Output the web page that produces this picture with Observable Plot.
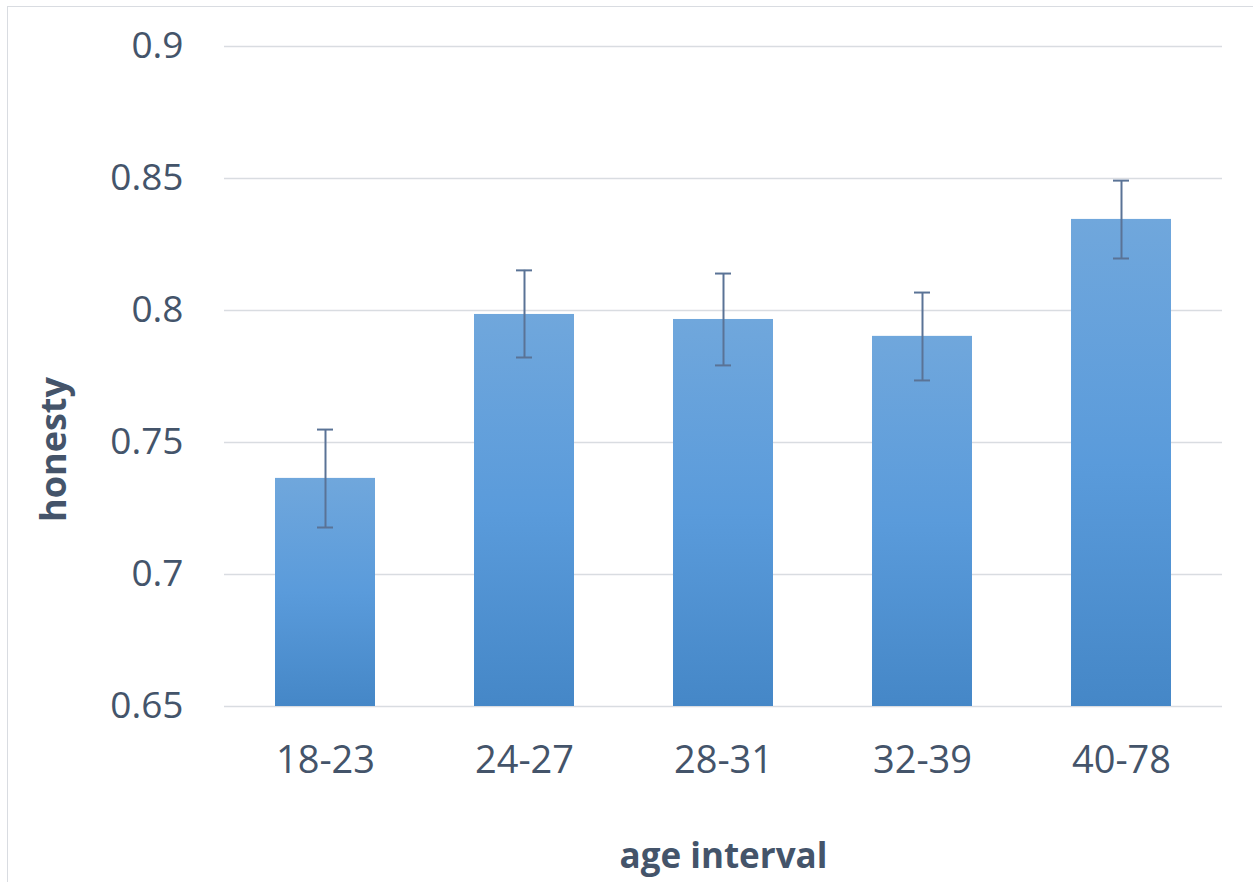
<!DOCTYPE html>
<html>
<head>
<meta charset="utf-8">
<script src="https://cdn.jsdelivr.net/npm/d3@7"></script>
<script src="https://cdn.jsdelivr.net/npm/@observablehq/plot@0.6"></script>
<style>
  html, body { margin: 0; padding: 0; background: #fff; overflow: hidden; }
  #wrap { position: relative; width: 1253px; height: 882px; }
  #frame { position: absolute; left: 7px; top: 6px; width: 1300px; height: 950px;
           border: 1.5px solid #d9dce1; box-sizing: border-box; pointer-events: none; }
  #chart { position: absolute; left: 0; top: 0; }
</style>
</head>
<body>
<div id="wrap"><div id="chart"></div><div id="frame"></div></div>
<script>
const categories = ["18-23", "24-27", "28-31", "32-39", "40-78"];
const honesty    = [0.7364, 0.7985, 0.7966, 0.7902, 0.8345];
const errLow     = [0.7178, 0.7822, 0.7792, 0.7735, 0.8197];
const errHigh    = [0.7549, 0.8152, 0.8140, 0.8068, 0.8492];
const yTicks     = [0.65, 0.7, 0.75, 0.8, 0.85, 0.9];
const yTickLabels = ["0.65", "0.7", "0.75", "0.8", "0.85", "0.9"];

const data = categories.map((c, i) => ({cat: c, v: honesty[i], lo: errLow[i], hi: errHigh[i]}));
const textColor = "#44546a";
const font = "'Open Sans', 'DejaVu Sans', sans-serif";

const chart = Plot.plot({
  width: 1253,
  height: 882,
  marginLeft: 224,
  marginRight: 31,
  marginTop: 46,
  marginBottom: 176,
  style: {fontFamily: font, color: textColor, background: "transparent", overflow: "visible"},
  x: {domain: categories, paddingInner: 0.5, paddingOuter: 0.25, label: null},
  y: {domain: [0.65, 0.9], label: null},
  marks: [
    Plot.ruleY(yTicks, {stroke: "#d9dce1", strokeWidth: 1.5}),
    Plot.barY(data, {x: "cat", y1: 0.65, y2: "v", fill: "url(#barGrad)"}),
    Plot.ruleX(data, {x: "cat", y1: "lo", y2: "hi", stroke: "#5a7396", strokeWidth: 2}),
    Plot.tickY(data, {x: "cat", y: "lo", stroke: "#5a7396", strokeWidth: 2, inset: 42}),
    Plot.tickY(data, {x: "cat", y: "hi", stroke: "#5a7396", strokeWidth: 2, inset: 42}),
    Plot.axisY({ticks: yTicks, tickFormat: (d, i) => yTickLabels[i], tickSize: 0, tickPadding: 41,
                fontSize: 37, fill: textColor, label: null}),
    Plot.axisX({tickSize: 0, tickPadding: 40, fontSize: 38, fill: textColor, label: null}),
    Plot.text(["age interval"], {frameAnchor: "bottom", dy: 161, fontSize: 35, fontWeight: "bold",
                                 fill: textColor, lineAnchor: "bottom"}),
    Plot.text(["honesty"], {frameAnchor: "left", dx: -170, dy: 73, rotate: -90, fontSize: 36, fontWeight: "bold",
                            fill: textColor, textAnchor: "middle"})
  ]
});

// gradient definition for bars
const svg = d3.select(chart);
const defs = svg.insert("defs", ":first-child");
const g = defs.append("linearGradient").attr("id", "barGrad")
  .attr("x1", 0).attr("y1", 0).attr("x2", 0).attr("y2", 1);
g.append("stop").attr("offset", "0%").attr("stop-color", "#70a7dc");
g.append("stop").attr("offset", "50%").attr("stop-color", "#5a9bdb");
g.append("stop").attr("offset", "100%").attr("stop-color", "#4587c7");

document.getElementById("chart").appendChild(chart);
</script>
</body>
</html>
